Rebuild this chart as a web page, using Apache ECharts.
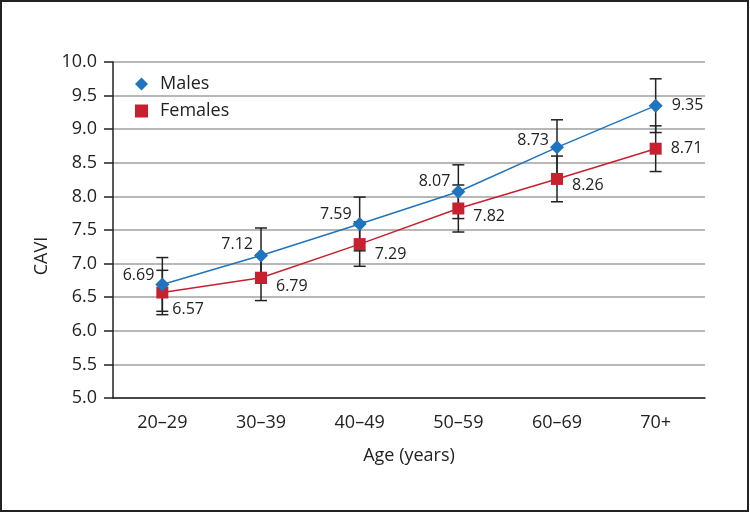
<!DOCTYPE html>
<html><head><meta charset="utf-8">
<script src="https://cdn.jsdelivr.net/npm/echarts@6/dist/echarts.min.js"></script>
<style>html,body{margin:0;padding:0;background:#fff}#c{width:750px;height:513px}</style>
</head><body><div id="c"></div>
<script>
const categories = ['20–29','30–39','40–49','50–59','60–69','70+'];
const males = [6.69, 7.12, 7.59, 8.07, 8.73, 9.35];
const females = [6.57, 6.79, 7.29, 7.82, 8.26, 8.71];
const malesErr = [0.40, 0.41, 0.40, 0.40, 0.41, 0.40];
const femalesErr = [0.33, 0.34, 0.33, 0.35, 0.34, 0.34];
const maleLabelPos = ['left','left','left','left','left','right'];
const femaleLabelPos = ['right','right','right','right','right','right'];

const FONT = '"Open Sans", "Noto Sans", sans-serif';
const BLUE = '#1f74bf';
const RED = '#c8202f';

function errData(vals, errs){ return vals.map((v,i)=>[i, v-errs[i], v+errs[i]]); }
function errRender(params, api){
  const x = api.value(0);
  const lo = api.coord([x, api.value(1)]);
  const hi = api.coord([x, api.value(2)]);
  const w = 6;
  const st = {stroke:'#222', lineWidth:1.5};
  return {type:'group', children:[
    {type:'line', shape:{x1:lo[0],y1:lo[1],x2:hi[0],y2:hi[1]}, style:st},
    {type:'line', shape:{x1:lo[0]-w,y1:lo[1],x2:lo[0]+w,y2:lo[1]}, style:st},
    {type:'line', shape:{x1:hi[0]-w,y1:hi[1],x2:hi[0]+w,y2:hi[1]}, style:st}
  ]};
}
function labelled(vals, pos, offsets){
  return vals.map((v,i)=>({value:v, label:{position:pos[i], offset:offsets[i], distance: pos[i]==='right' ? 9 : 1}}));
}
const maleOffsets = [[0,-9],[0,-11],[0,-10],[0,-10],[0,-7],[0,0]];
const femaleOffsets = [[-5,17],[0,9],[0,10],[0,8],[0,7],[0,0]];

const chart = echarts.init(document.getElementById('c'));
chart.setOption({
  animation:false,
  textStyle:{fontFamily:FONT},
  graphic:[
    {type:'rect', shape:{x:1,y:1,width:747,height:510}, style:{fill:'none', stroke:'#222', lineWidth:2}, silent:true, z:100},
    {type:'text', x:42, y:256, rotation:Math.PI/2, silent:true,
     style:{text:'CAVI', fontSize:18, fill:'#222', fontFamily:FONT, textAlign:'center', textVerticalAlign:'middle'}}
  ],
  grid:{left:113, right:45, top:62, bottom:115},
  legend:{
    left:130, top:70, orient:'vertical', itemGap:9, itemWidth:13, itemHeight:13,
    textStyle:{fontSize:18, color:'#222', fontFamily:FONT, padding:[0,0,0,7]},
    data:[{name:'Males', icon:'diamond'},{name:'Females', icon:'rect'}]
  },
  xAxis:{
    type:'category', data:categories, boundaryGap:true,
    name:'Age (years)', nameLocation:'middle', nameGap:49,
    nameTextStyle:{fontSize:18, color:'#222', fontFamily:FONT},
    axisLine:{lineStyle:{color:'#222', width:1.5}},
    axisTick:{alignWithLabel:true, length:9, lineStyle:{color:'#222', width:1.5}},
    axisLabel:{fontSize:18, color:'#222', margin:16, fontFamily:FONT}
  },
  yAxis:{
    type:'value', min:5, max:10, interval:0.5,
    axisLine:{show:true, lineStyle:{color:'#222', width:1.5}},
    axisTick:{show:true, length:9, lineStyle:{color:'#222', width:1.5}},
    axisLabel:{fontSize:18, color:'#222', margin:16, fontFamily:FONT, formatter:v=>v.toFixed(1)},
    splitLine:{lineStyle:{color:'#a0a0a0', width:1.5}}
  },
  series:[
    {type:'custom', name:'Males err', renderItem:errRender, data:errData(males, malesErr), z:1, encode:{x:0,y:[1,2]}, silent:true},
    {type:'custom', name:'Females err', renderItem:errRender, data:errData(females, femalesErr), z:1, encode:{x:0,y:[1,2]}, silent:true},
    {type:'line', name:'Males', data:labelled(males, maleLabelPos, maleOffsets), symbol:'diamond', symbolSize:14,
     itemStyle:{color:BLUE}, lineStyle:{color:BLUE, width:1.5}, z:3,
     label:{show:true, fontSize:16, color:'#222', fontFamily:FONT}},
    {type:'line', name:'Females', data:labelled(females, femaleLabelPos, femaleOffsets), symbol:'rect', symbolSize:12,
     itemStyle:{color:RED}, lineStyle:{color:RED, width:1.5}, z:2,
     label:{show:true, fontSize:16, color:'#222', fontFamily:FONT}}
  ]
});
</script></body></html>
